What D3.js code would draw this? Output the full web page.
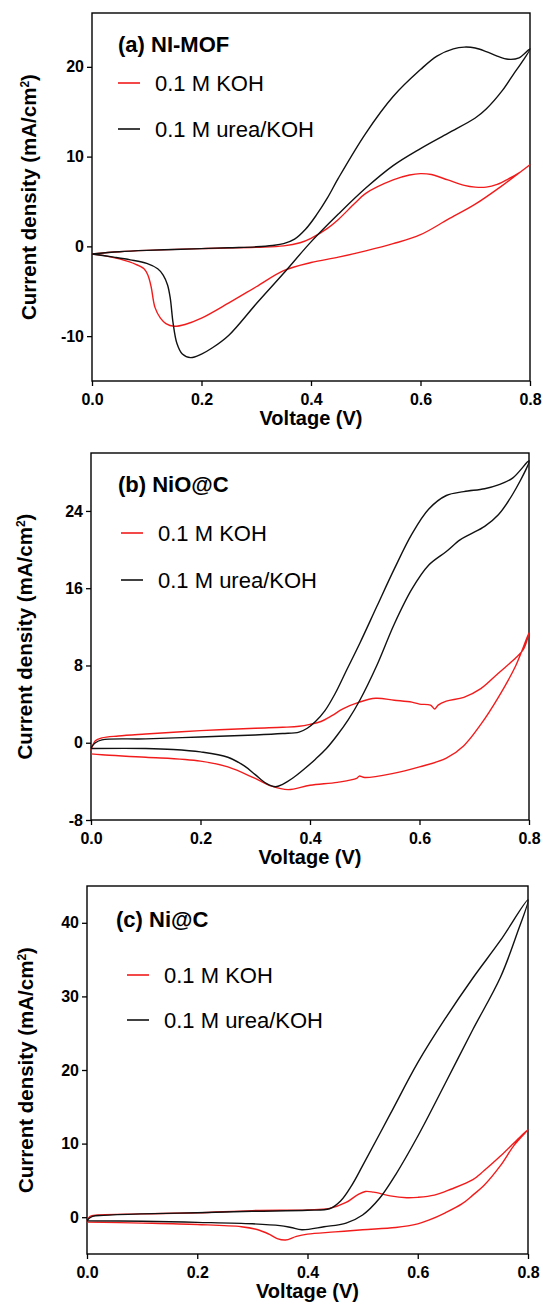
<!DOCTYPE html>
<html>
<head>
<meta charset="utf-8">
<script src="https://cdn.jsdelivr.net/npm/d3@7"></script>
<style>
  body { margin: 0; background: #fff; }
  svg { display: block; font-family: "Liberation Sans", Arial, sans-serif; }
</style>
</head>
<body>
<div id="chart"></div>
<script>
// ---- data (voltage V, current density mA/cm2) ----
const panelLabels = ["(a) NI-MOF", "(b) NiO@C", "(c) Ni@C"];
const legendLabels = ["0.1 M KOH", "0.1 M urea/KOH"];
const voltTicks = [0, 0.2, 0.4, 0.6, 0.8];
const yDomains = [[-15, 26], [-8, 30], [-5, 45]];
const yTicks = [[-10, 0, 10, 20], [-8, 0, 8, 16, 24], [0, 10, 20, 30, 40]];

// (a) Ni-MOF
const mofKoh = [[0,-0.85],[0.05,-0.6],[0.1,-0.45],[0.2,-0.25],[0.3,-0.1],[0.35,0.05],[0.38,0.4],[0.4,0.9],
  [0.43,2.0],[0.45,3.0],[0.48,4.8],[0.5,5.9],[0.55,7.4],[0.58,7.95],[0.6,8.1],[0.62,8.0],[0.65,7.4],
  [0.68,6.8],[0.7,6.6],[0.72,6.6],[0.74,6.9],[0.76,7.5],[0.78,8.2],[0.8,9.1],
  [0.75,6.8],[0.7,4.7],[0.65,3.0],[0.6,1.3],[0.55,0.3],[0.5,-0.5],[0.45,-1.2],[0.4,-1.8],[0.35,-2.7],
  [0.3,-4.5],[0.25,-6.3],[0.2,-8.0],[0.17,-8.7],[0.15,-8.9],[0.135,-8.6],[0.125,-8.0],[0.115,-6.8],
  [0.108,-4.5],[0.102,-3.2],[0.095,-2.5],[0.08,-2.0],[0.05,-1.4],[0.02,-1.0],[0,-0.85]];
const mofUrea = [[0,-0.85],[0.05,-0.6],[0.1,-0.45],[0.15,-0.35],[0.2,-0.25],[0.25,-0.15],[0.3,-0.05],
  [0.33,0.1],[0.35,0.3],[0.37,0.8],[0.39,1.9],[0.41,3.5],[0.43,5.4],[0.45,7.6],[0.5,12.6],[0.55,16.7],
  [0.6,19.7],[0.63,21.2],[0.66,22.0],[0.68,22.2],[0.7,22.1],[0.72,21.7],[0.74,21.2],[0.76,20.85],
  [0.78,21.0],[0.8,22.0],
  [0.785,20.5],[0.77,19.2],[0.75,17.4],[0.72,15.3],[0.7,14.3],[0.65,12.6],[0.6,10.9],
  [0.55,9.0],[0.5,6.5],[0.45,3.6],[0.4,0.5],[0.35,-3.0],[0.3,-6.4],[0.25,-9.9],[0.22,-11.3],[0.2,-12.0],
  [0.18,-12.4],[0.165,-12.0],[0.155,-10.8],[0.148,-8.5],[0.143,-5.8],[0.138,-4.3],[0.13,-3.2],
  [0.12,-2.5],[0.1,-1.9],[0.07,-1.5],[0.04,-1.2],[0,-0.85]];

// (b) NiO@C
const nioKoh = [[0,-0.8],[0.008,0.2],[0.02,0.5],[0.05,0.7],[0.1,0.9],[0.2,1.25],[0.3,1.5],[0.35,1.6],
  [0.38,1.7],[0.4,1.9],[0.42,2.2],[0.44,2.8],[0.46,3.5],[0.49,4.2],[0.52,4.6],[0.554,4.4],[0.586,4.2],
  [0.6,4.0],[0.62,3.9],[0.628,3.5],[0.634,3.9],[0.649,4.3],[0.681,4.7],[0.712,5.6],[0.744,7.2],
  [0.776,8.8],[0.79,9.7],[0.8,11.4],
  [0.776,8.0],[0.744,4.7],[0.712,1.9],[0.681,-0.3],[0.649,-1.6],[0.6,-2.5],[0.55,-3.2],[0.5,-3.6],
  [0.49,-3.45],[0.485,-3.7],[0.45,-4.1],[0.4,-4.4],[0.36,-4.85],[0.33,-4.5],[0.3,-3.7],[0.25,-2.5],
  [0.2,-1.9],[0.1,-1.5],[0.02,-1.25],[0,-1.15]];
const nioUrea = [[0,-0.5],[0.008,0.0],[0.02,0.3],[0.1,0.4],[0.2,0.6],[0.3,0.8],[0.35,0.95],[0.38,1.1],
  [0.395,1.5],[0.41,2.2],[0.427,3.3],[0.446,5.1],[0.465,7.3],[0.491,10.3],[0.522,14.1],[0.554,18.0],
  [0.586,21.6],[0.617,24.2],[0.649,25.6],[0.681,26.0],[0.719,26.3],[0.744,26.7],[0.77,27.4],[0.8,29.2],
  [0.776,26.3],[0.744,23.6],[0.719,22.4],[0.693,21.6],[0.674,21.0],[0.649,19.8],[0.617,18.4],
  [0.586,15.9],[0.554,12.3],[0.522,8.0],[0.491,4.4],[0.47,2.4],[0.45,0.8],[0.43,-0.6],[0.41,-1.7],
  [0.39,-2.7],[0.37,-3.6],[0.35,-4.3],[0.337,-4.55],[0.32,-4.2],[0.3,-3.3],[0.28,-2.4],[0.25,-1.5],
  [0.2,-0.95],[0.15,-0.7],[0.1,-0.6],[0,-0.6]];

// (c) Ni@C
const niKoh = [[0,-0.6],[0.005,0.1],[0.02,0.3],[0.1,0.45],[0.2,0.6],[0.3,0.9],[0.4,1.0],[0.44,1.2],
  [0.47,2.0],[0.49,3.0],[0.505,3.5],[0.52,3.4],[0.55,2.9],[0.58,2.65],[0.6,2.7],[0.63,3.0],[0.66,3.8],
  [0.7,5.1],[0.72,6.3],[0.75,8.3],[0.78,10.5],[0.8,11.9],
  [0.775,9.8],[0.75,7.0],[0.72,4.3],[0.7,3.0],[0.68,1.8],[0.65,0.6],[0.62,-0.4],[0.6,-0.9],[0.56,-1.4],
  [0.5,-1.7],[0.45,-2.0],[0.4,-2.3],[0.38,-2.6],[0.36,-3.1],[0.345,-2.9],[0.33,-2.3],[0.31,-1.7],
  [0.28,-1.3],[0.2,-1.0],[0.1,-0.8],[0,-0.65]];
const niUrea = [[0,-0.4],[0.01,0.1],[0.03,0.25],[0.1,0.45],[0.2,0.6],[0.3,0.8],[0.4,0.95],[0.44,1.15],
  [0.46,2.2],[0.48,4.3],[0.5,7.0],[0.55,14.0],[0.6,21.0],[0.65,27.0],[0.7,32.5],[0.75,37.6],[0.8,43.1],
  [0.78,38.5],[0.75,32.6],[0.7,25.5],[0.65,18.2],[0.6,11.0],[0.56,5.8],[0.53,2.5],[0.5,0.3],
  [0.47,-0.8],[0.43,-1.3],[0.39,-1.7],[0.37,-1.4],[0.35,-1.15],[0.3,-0.9],[0.2,-0.7],[0.1,-0.55],[0,-0.5]];

const kohSeries = [mofKoh, nioKoh, niKoh];
const ureaSeries = [mofUrea, nioUrea, niUrea];

// ---- layout ----
const width = 543, height = 1304;
const frames = [
  { left: 92, right: 530, top: 13, bottom: 381, yTitleX: 29, labelY: 52, labelX: 118, legX: 118, legY: [83, 129] },
  { left: 91, right: 529, top: 453, bottom: 820, yTitleX: 25, labelY: 492, labelX: 118, legX: 121, legY: [533, 580] },
  { left: 87, right: 528, top: 886, bottom: 1254, yTitleX: 26, labelY: 927, labelX: 116, legX: 127, legY: [975, 1020] }
];
const red = "#f21b1b";
const font = "'Liberation Sans', Arial, sans-serif";

const svg = d3.select("#chart").append("svg")
  .attr("width", width)
  .attr("height", height);

frames.forEach((f, i) => {
  const x = d3.scaleLinear().domain([0, 0.8]).range([f.left, f.right]);
  const y = d3.scaleLinear().domain(yDomains[i]).range([f.bottom, f.top]);
  const g = svg.append("g");

  // axes (outward ticks on left and bottom)
  const xAxis = g.append("g")
    .attr("transform", `translate(0,${f.bottom})`)
    .call(d3.axisBottom(x).tickValues(voltTicks).tickFormat(d3.format(".1f")).tickSize(5).tickSizeOuter(0));
  const yAxis = g.append("g")
    .attr("transform", `translate(${f.left},0)`)
    .call(d3.axisLeft(y).tickValues(yTicks[i]).tickFormat(d => String(d)).tickSize(5).tickSizeOuter(0));
  [xAxis, yAxis].forEach(a => {
    a.select(".domain").remove();
    a.selectAll("line").attr("stroke", "#000").attr("stroke-width", 1.3);
    a.selectAll("text").attr("font-family", font).attr("font-size", 16)
      .attr("font-weight", "bold").attr("fill", "#000");
  });
  xAxis.selectAll("text").attr("dy", "1.0em");
  yAxis.selectAll("text").attr("x", -8);

  // frame
  g.append("rect")
    .attr("x", f.left).attr("y", f.top)
    .attr("width", f.right - f.left).attr("height", f.bottom - f.top)
    .attr("fill", "none").attr("stroke", "#000").attr("stroke-width", 1.4);

  // curves
  const line = d3.line()
    .x(d => x(d[0]))
    .y(d => y(d[1]))
    .curve(d3.curveCatmullRom.alpha(0.5));
  g.append("path").datum(kohSeries[i])
    .attr("d", line).attr("fill", "none").attr("stroke", red).attr("stroke-width", 1.4);
  g.append("path").datum(ureaSeries[i])
    .attr("d", line).attr("fill", "none").attr("stroke", "#111").attr("stroke-width", 1.4);

  // axis titles
  g.append("text")
    .attr("x", (f.left + f.right) / 2)
    .attr("y", f.bottom + 44)
    .attr("text-anchor", "middle")
    .attr("font-family", font).attr("font-size", 20).attr("font-weight", "bold")
    .text("Voltage (V)");

  const yt = g.append("text")
    .attr("transform", `translate(${f.yTitleX},${(f.top + f.bottom) / 2}) rotate(-90)`)
    .attr("text-anchor", "middle")
    .attr("dy", "0.35em")
    .attr("font-family", font).attr("font-size", 20.5).attr("font-weight", "bold");
  yt.append("tspan").text("Current density (mA/cm");
  yt.append("tspan").attr("baseline-shift", "super").attr("font-size", 12).text("2");
  yt.append("tspan").text(")");

  // panel label
  g.append("text")
    .attr("x", f.labelX).attr("y", f.labelY)
    .attr("font-family", font).attr("font-size", 22).attr("font-weight", "bold")
    .text(panelLabels[i]);

  // legend
  [red, "#111"].forEach((c, k) => {
    g.append("line")
      .attr("x1", f.legX).attr("x2", f.legX + 22)
      .attr("y1", f.legY[k]).attr("y2", f.legY[k])
      .attr("stroke", c).attr("stroke-width", 1.6);
    g.append("text")
      .attr("x", f.legX + 37).attr("y", f.legY[k])
      .attr("dy", "0.36em")
      .attr("font-family", font).attr("font-size", 22)
      .text(legendLabels[k]);
  });
});
</script>
</body>
</html>
